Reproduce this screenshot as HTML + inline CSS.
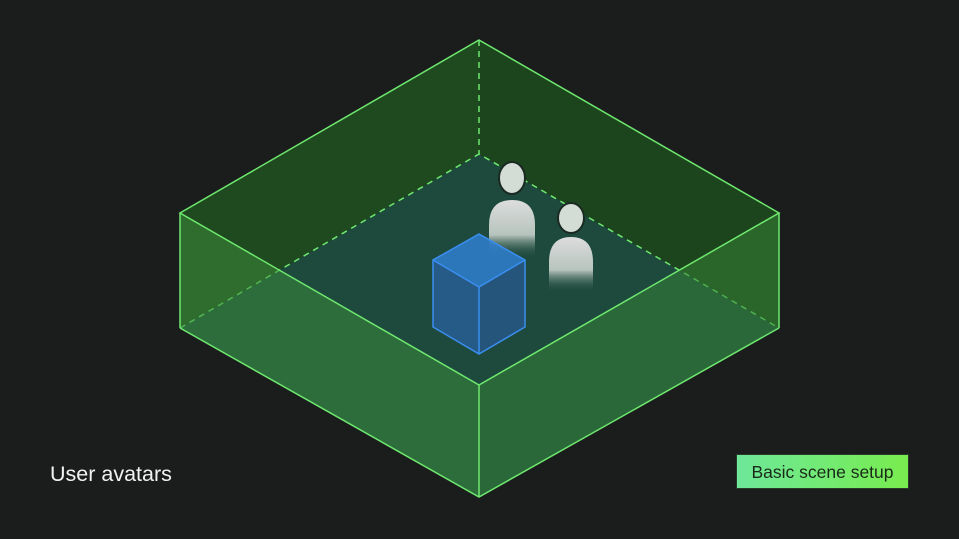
<!DOCTYPE html>
<html><head><meta charset="utf-8"><style>
html,body{margin:0;padding:0;background:#1b1d1d;}
body{width:959px;height:539px;overflow:hidden;position:relative;font-family:"Liberation Sans",sans-serif;}
.lab{position:absolute;left:50px;top:462px;color:#f2f2f2;font-size:21.5px;}
.btn{position:absolute;left:736px;top:454px;width:173px;height:35px;background:linear-gradient(90deg,#6ee89a,#78ec4e);color:#1a2a1a;font-size:17.5px;line-height:35px;text-align:center;box-sizing:border-box;border:1px solid #2a3a2a;}
</style></head><body>
<svg width="959" height="539" style="position:absolute;left:0;top:0">
<defs>
<linearGradient id="bf" x1="0" y1="0" x2="0" y2="1"><stop offset="0" stop-color="#ddd"/><stop offset="0.6" stop-color="#c8d2cc" stop-opacity="0.9"/><stop offset="1" stop-color="#1e4a3c" stop-opacity="0"/></linearGradient>
</defs>
<polygon points="479,40 180,213 180,328 479,154" fill="#1f4a1f"/>
<polygon points="479,40 779,213 779,328 479,154" fill="#1d451d"/>
<polygon points="479,154 180,328 479,497 779,328" fill="#1e4a3e"/>
<g stroke="#6ee86e" stroke-width="1.5" fill="none" stroke-dasharray="6,5"><line x1="479" y1="40" x2="479" y2="154"/><polyline points="180,328 479,154 779,328"/></g>
<ellipse cx="512" cy="178" rx="13" ry="16" fill="#d4dcd6" stroke="#1a2a22" stroke-width="2"/>
<path d="M489,225 Q489,200 512,200 Q535,200 535,225 L535,258 L489,258 Z" fill="url(#bf)"/>
<ellipse cx="571" cy="218" rx="13" ry="15" fill="#d4dcd6" stroke="#1a2a22" stroke-width="2"/>
<path d="M549,262 Q549,237 571,237 Q593,237 593,262 L593,292 L549,292 Z" fill="url(#bf)"/>
<polygon points="479,234 525,260 479,287 433,260" fill="#2f7fcf" opacity="0.85"/>
<polygon points="433,260 479,287 479,354 433,327" fill="#2a62a0" opacity="0.75"/>
<polygon points="525,260 479,287 479,354 525,327" fill="#285a90" opacity="0.75"/>
<g stroke="#3a8ef0" stroke-width="1.5" fill="none">
<polygon points="479,234 525,260 525,327 479,354 433,327 433,260"/>
<polyline points="433,260 479,287 525,260"/><line x1="479" y1="287" x2="479" y2="354"/></g>
<polygon points="180,213 479,385 479,497 180,328" fill="#3a8a3a" opacity="0.55"/>
<polygon points="779,213 479,385 479,497 779,328" fill="#358035" opacity="0.55"/>
<g stroke="#6ee86e" stroke-width="1.5" fill="none">
<polygon points="479,40 779,213 479,385 180,213"/>
<line x1="180" y1="213" x2="180" y2="328"/><line x1="779" y1="213" x2="779" y2="328"/><line x1="479" y1="385" x2="479" y2="497"/>
<polyline points="180,328 479,497 779,328"/>
</g>
</svg>
<div class="lab">User avatars</div>
<div class="btn">Basic scene setup</div>
</body></html>
